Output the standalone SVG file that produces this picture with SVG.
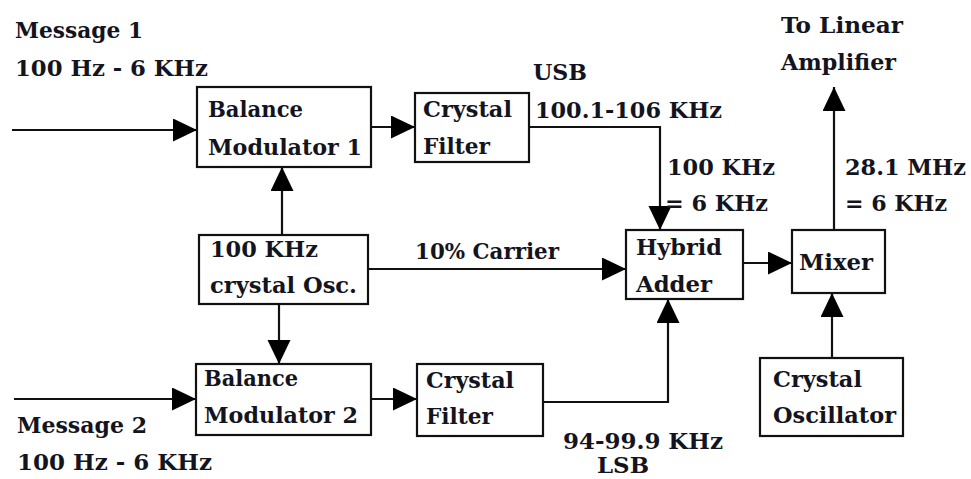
<svg xmlns="http://www.w3.org/2000/svg" width="971" height="479" viewBox="0 0 971 479">
<defs>
<style>
text{font-family:"DejaVu Serif","Liberation Serif",serif;font-size:21.5px;font-weight:bold;fill:#141420;}
.box{fill:#fff;stroke:#111;stroke-width:2.2;}
.ln{fill:none;stroke:#111;stroke-width:2.2;}
</style>
<marker id="ah" markerUnits="userSpaceOnUse" markerWidth="26" markerHeight="24" refX="24" refY="11.5" orient="auto">
<path d="M0,0 L24,11.5 L0,23 z" fill="#000"/>
</marker>
</defs>
<rect width="971" height="479" fill="#fff"/>
<g id="connectors">
<line class="ln" x1="12" y1="130" x2="197" y2="130" marker-end="url(#ah)"/>
<line class="ln" x1="371" y1="127" x2="415" y2="127" marker-end="url(#ah)"/>
<polyline class="ln" points="529,127 660,127 660,230" marker-end="url(#ah)"/>
<line class="ln" x1="282" y1="235" x2="282" y2="167" marker-end="url(#ah)"/>
<line class="ln" x1="279" y1="304" x2="279" y2="364" marker-end="url(#ah)"/>
<line class="ln" x1="368" y1="269" x2="626" y2="269" marker-end="url(#ah)"/>
<line class="ln" x1="14" y1="399" x2="196" y2="399" marker-end="url(#ah)"/>
<line class="ln" x1="371" y1="399" x2="417" y2="399" marker-end="url(#ah)"/>
<polyline class="ln" points="543,402 668,402 668,299" marker-end="url(#ah)"/>
<line class="ln" x1="743" y1="263" x2="792" y2="263" marker-end="url(#ah)"/>
<line class="ln" x1="832" y1="358" x2="832" y2="293" marker-end="url(#ah)"/>
<line class="ln" x1="834" y1="230" x2="834" y2="87" marker-end="url(#ah)"/>
</g>
<g id="labels">
<text x="15" y="38" textLength="128" lengthAdjust="spacingAndGlyphs">Message 1</text>
<text x="15" y="76" textLength="193" lengthAdjust="spacingAndGlyphs">100 Hz - 6 KHz</text>
<text x="533" y="80" textLength="54" lengthAdjust="spacingAndGlyphs">USB</text>
<text x="535" y="118" textLength="187" lengthAdjust="spacingAndGlyphs">100.1-106 KHz</text>
<text x="667" y="175" textLength="108" lengthAdjust="spacingAndGlyphs">100 KHz</text>
<text x="665" y="211" textLength="103" lengthAdjust="spacingAndGlyphs">= 6 KHz</text>
<text x="781" y="33" textLength="122" lengthAdjust="spacingAndGlyphs">To Linear</text>
<text x="781" y="70" textLength="115" lengthAdjust="spacingAndGlyphs">Amplifier</text>
<text x="845" y="175" textLength="121" lengthAdjust="spacingAndGlyphs">28.1 MHz</text>
<text x="845" y="211" textLength="102" lengthAdjust="spacingAndGlyphs">= 6 KHz</text>
<text x="415" y="259" textLength="144" lengthAdjust="spacingAndGlyphs">10% Carrier</text>
<text x="17" y="433" textLength="130" lengthAdjust="spacingAndGlyphs">Message 2</text>
<text x="17" y="470" textLength="195" lengthAdjust="spacingAndGlyphs">100 Hz - 6 KHz</text>
<text x="563" y="449" textLength="160" lengthAdjust="spacingAndGlyphs">94-99.9 KHz</text>
<text x="597" y="473" textLength="52" lengthAdjust="spacingAndGlyphs">LSB</text>
</g>
<g id="bm1">
<rect class="box" x="197" y="87" width="174" height="80"/>
<text x="208" y="117" textLength="95" lengthAdjust="spacingAndGlyphs">Balance</text>
<text x="208" y="155" textLength="154" lengthAdjust="spacingAndGlyphs">Modulator 1</text>
</g>
<g id="cf1">
<rect class="box" x="415" y="93" width="114" height="69"/>
<text x="423" y="117" textLength="89" lengthAdjust="spacingAndGlyphs">Crystal</text>
<text x="423" y="154" textLength="67" lengthAdjust="spacingAndGlyphs">Filter</text>
</g>
<g id="osc100">
<rect class="box" x="199" y="235" width="169" height="69"/>
<text x="210" y="257" textLength="108" lengthAdjust="spacingAndGlyphs">100 KHz</text>
<text x="210" y="293" textLength="147" lengthAdjust="spacingAndGlyphs">crystal Osc.</text>
</g>
<g id="hybrid">
<rect class="box" x="626" y="230" width="117" height="69"/>
<text x="636" y="255" textLength="86" lengthAdjust="spacingAndGlyphs">Hybrid</text>
<text x="636" y="292" textLength="76" lengthAdjust="spacingAndGlyphs">Adder</text>
</g>
<g id="mixer">
<rect class="box" x="792" y="230" width="93" height="63"/>
<text x="799" y="270" textLength="74" lengthAdjust="spacingAndGlyphs">Mixer</text>
</g>
<g id="bm2">
<rect class="box" x="196" y="364" width="175" height="71"/>
<text x="204" y="386" textLength="94" lengthAdjust="spacingAndGlyphs">Balance</text>
<text x="204" y="423" textLength="154" lengthAdjust="spacingAndGlyphs">Modulator 2</text>
</g>
<g id="cf2">
<rect class="box" x="417" y="364" width="126" height="72"/>
<text x="426" y="388" textLength="88" lengthAdjust="spacingAndGlyphs">Crystal</text>
<text x="426" y="424" textLength="67" lengthAdjust="spacingAndGlyphs">Filter</text>
</g>
<g id="xosc">
<rect class="box" x="760" y="358" width="143" height="78"/>
<text x="773" y="387" textLength="89" lengthAdjust="spacingAndGlyphs">Crystal</text>
<text x="773" y="423" textLength="123" lengthAdjust="spacingAndGlyphs">Oscillator</text>
</g>
</svg>
